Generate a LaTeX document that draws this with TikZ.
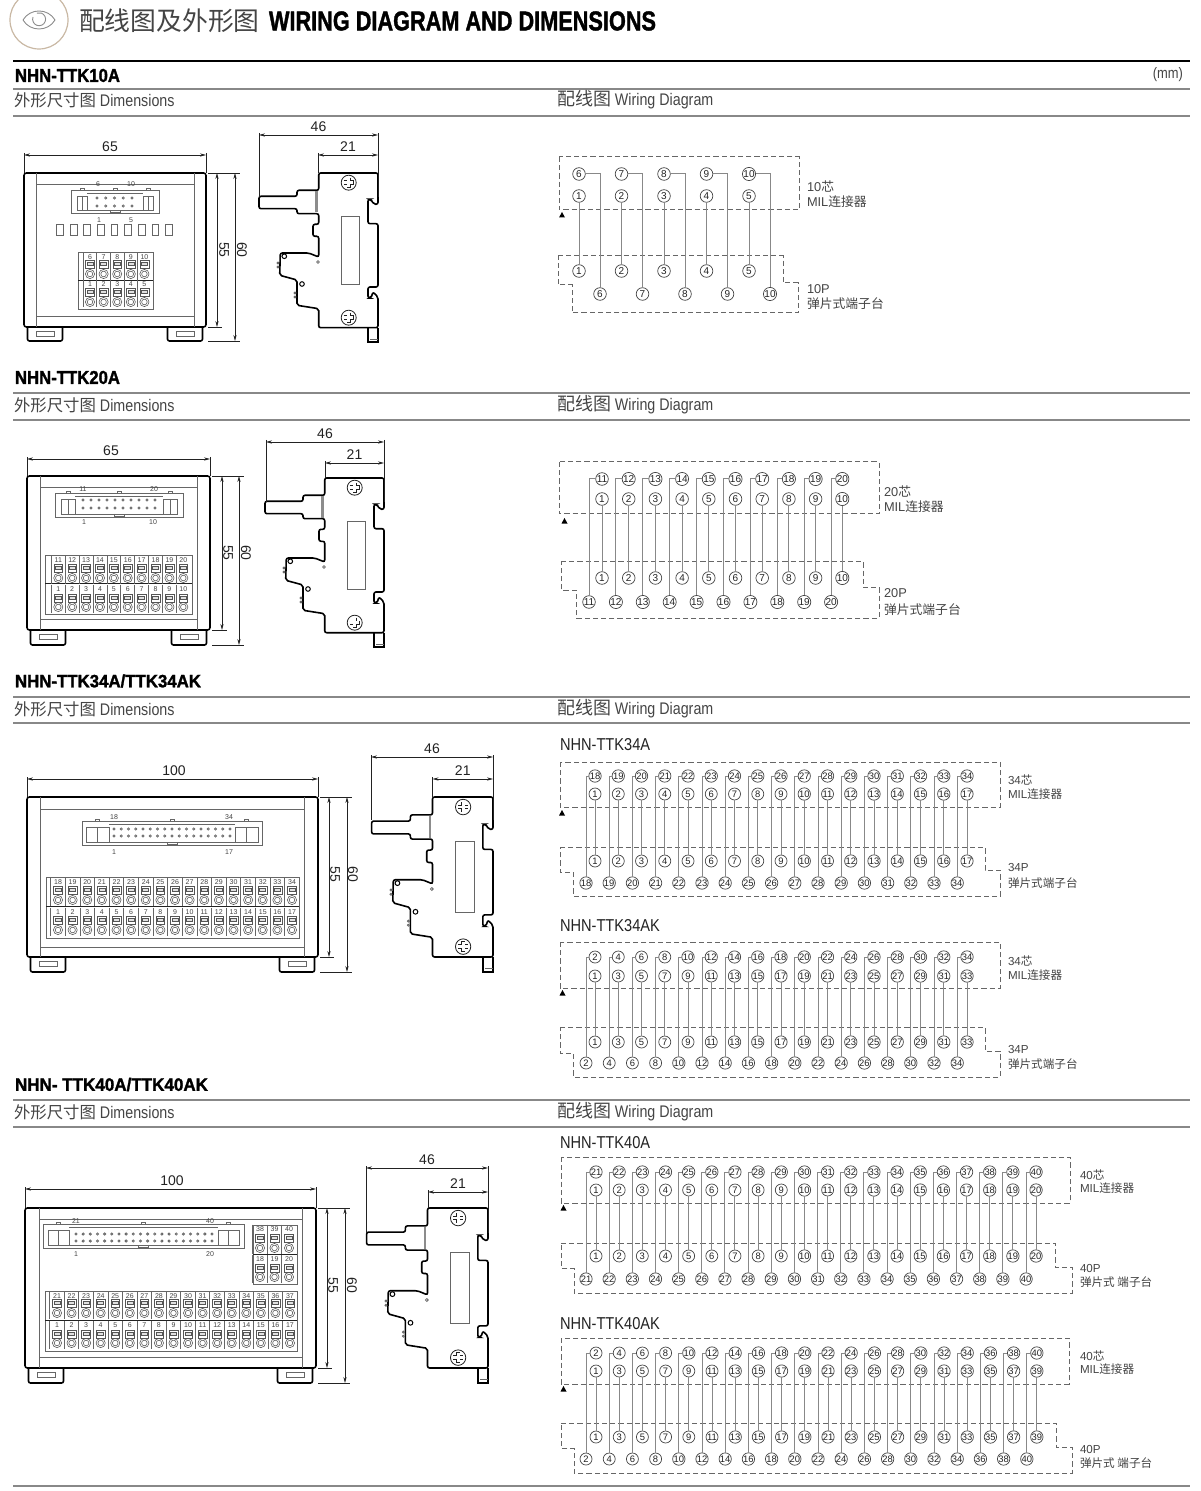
\documentclass[tikz,border=0pt]{standalone}
\usepackage{fontspec}
\usepackage{graphicx}
\setmainfont{Liberation Sans}
\newfontfamily\cjk{Noto Sans CJK SC}
\newfontfamily\fcond[FakeStretch=0.85]{Liberation Sans}
\newfontfamily\heavy[FakeBold=1.6]{Liberation Sans}
\usetikzlibrary{arrows.meta}
\definecolor{ink}{HTML}{222222}
\definecolor{soft}{HTML}{444444}
\definecolor{wirec}{HTML}{888888}
\definecolor{dashc}{HTML}{666666}
\definecolor{termc}{HTML}{555555}
\definecolor{rulec}{HTML}{888888}
\definecolor{tan}{HTML}{C9B8A4}
\newcommand{\zh}[1]{{\cjk #1}}
\newcount\nodeid
\newcommand{\lab}[3][]{\global\advance\nodeid 1 \node[#1] (n\the\nodeid) at (#2) {#3};}
\tikzset{
  every node/.style={inner sep=0pt,outer sep=0pt},
  pinnode/.style={circle,draw=soft,line width=.35pt,fill=white,minimum size=6.3pt,text=ink,font=\fontsize{5}{5}\selectfont},
  wire/.style={draw=wirec,line width=.5pt},
  dashbox/.style={draw=dashc,line width=.5pt,dash pattern=on 2.6pt off 1.5pt},
  outline/.style={draw=black,line width=.8pt},
  thin line/.style={draw=dashc,line width=.4pt},
  termline/.style={draw=termc,line width=.28pt},
  dimline/.style={draw=ink,line width=.3pt,{Stealth[length=3pt,width=1.6pt]}-{Stealth[length=3pt,width=1.6pt]}},
  extline/.style={draw=ink,line width=.3pt},
  dimtext/.style={text=ink,font=\fontsize{7}{8}\selectfont},
  tinytext/.style={text=soft,font=\fontsize{3.5}{4}\selectfont},
  sidetext/.style={anchor=west,text=soft,font=\fontsize{6.4}{7}\selectfont},
  sidetextb/.style={anchor=west,text=soft,font=\fontsize{5.8}{7}\selectfont},
  head/.style={anchor=base west,text=soft,font=\fcond\fontsize{8.4}{9}\selectfont},
}
% ---------- section heading
\newcommand{\sechead}[7]{%
  \lab[anchor=west]{15,#3}{\resizebox{\dimexpr#1pt/2\relax}{6.5pt}{\heavy\bfseries #2}}
  \draw[draw=rulec,line width=.6pt] (13,#4) -- (1190,#4);
  \lab[head]{14,#5+6}{\zh{\fontsize{8.2}{9}\selectfont 外形尺寸图}\ Dimensions}
  \lab[head]{557,#7+6}{\zh{\fontsize{9}{9}\selectfont 配线图}\ Wiring Diagram}
  \draw[draw=rulec,line width=.6pt] (13,#6) -- (1190,#6);
}
% ---------- dimensions
\def\hdoff{0}
\newcommand{\hd}[5]{% x1 x2 y label lower-end
  \draw[extline] (#1,#3-2) -- (#1,#5);
  \draw[extline] (#2,#3-2) -- (#2,#5);
  \draw[dimline] (#1,#3) -- (#2,#3);
  \lab[dimtext]{{(#1+#2)/2+\hdoff},#3-8.5}{#4}
}
\newcommand{\vd}[6]{% x y1 y2 xfrom label labelx
  \draw[extline] (#4,#2) -- (#1+5,#2);
  \draw[extline] (#4,#3) -- (#1+5,#3);
  \draw[dimline] (#1,#2) -- (#1,#3);
  \lab[dimtext,rotate=-90]{#6,{(#2+#2+154)/2}}{#5}
}
% ---------- front frame
\newcommand{\frontview}[9]{% xL xR yT yB yF inL inR inT inB
  \foreach \fx/\fy in {#1+3.5/#1+38.5,#2-38.5/#2-3.5}{
    \pgfmathsetmacro\fa{\fx}\pgfmathsetmacro\fb{\fy}
    \draw[outline,rounded corners=1pt] (\fa,#4) -- (\fa,#5) -- (\fb,#5) -- (\fb,#4);
    \draw[thin line] ({\fa+9},#4+4) rectangle ({\fb-8},#4+9);
  }
  \draw[outline,fill=white,rounded corners=1.2pt] (#1,#3) rectangle (#2,#4);
  \draw[thin line] (#6,#3) -- (#6,#4) (#7,#3) -- (#7,#4) (#6,#8) -- (#7,#8) (#6,#9) -- (#7,#9);
}
% ---------- MIL connector on the front
\def\ejoff{5}\def\ejw{12}
\newcommand{\connbox}[9]{% xL xR yT yB px1 pdx n y1 y2
  \draw[thin line] (#1,#3) rectangle (#2,#4);
  \draw[thin line] (#1+\ejoff,#3+6) rectangle (#1+\ejoff+\ejw,#4-3);
  \draw[thin line] (#1+\ejoff+\ejw/2,#3+6) -- (#1+\ejoff+\ejw/2,#4-3);
  \draw[thin line] (#2-\ejoff,#3+6) rectangle (#2-\ejoff-\ejw,#4-3);
  \draw[thin line] (#2-\ejoff-\ejw/2,#3+6) -- (#2-\ejoff-\ejw/2,#4-3);
  \draw[thin line] (#1+\ejoff+\ejw,#3+3) -- (#2-\ejoff-\ejw,#3+3);
  \draw[thin line] (#1+\ejoff+\ejw,#4-3) -- (#2-\ejoff-\ejw,#4-3);
  \draw[thin line] ({(#1+#2)/2-5},#4-3) -- ({(#1+#2)/2-5},#4-1) -- ({(#1+#2)/2+5},#4-1) -- ({(#1+#2)/2+5},#4-3);
  \foreach \tabx in {#1+\ejoff+\ejw/2,(#1+#2)/2,#2-\ejoff-\ejw/2}{
    \pgfmathsetmacro\tx{\tabx}
    \draw[thin line] ({\tx-2},#3) -- ({\tx-2},#3-1.5) -- ({\tx+2},#3-1.5) -- ({\tx+2},#3);
  }
  \foreach \ci in {1,...,#7}{
    \pgfmathsetmacro\cx{#5+(\ci-1)*#6}
    \draw[thin line] (\cx,#8) circle[radius=1.1];
    \draw[thin line] (\cx,#9) circle[radius=1.1];
  }
}
% ---------- terminal row
\newcommand{\trow}[7]{% x0 dx n first yl ys yc
  \foreach \ci in {1,...,#3}{
    \pgfmathsetmacro\cx{#1+(\ci-1)*#2}
    \pgfmathtruncatemacro\cl{#4+\ci-1}
    \draw[thin line] ({\cx-#2/2},#5-4.5) -- ({\cx-#2/2},#7+5.5);
    \lab[tinytext]{\cx,#5}{\cl}
    \draw[termline] ({\cx-4.4},#6-4) rectangle ({\cx+4.4},#6+4);
    \draw[termline,fill=black!12] ({\cx-3},#6-1.4) rectangle ({\cx+3},#6+1.6);
    \draw[termline] (\cx,#7) circle[radius=4.6];
    \draw[termline] (\cx,#7) circle[radius=2.8];
  }
}
% ---------- side view
\newcommand{\sideview}[4]{%
  \begin{scope}[shift={(#1,#2)},xscale=#3,yscale=#4]
    \draw[outline] (-10,154.7) -- (-10,169) -- (0,169) -- (0,154.7);
    \draw[thin line] (-8,166) -- (0,166);
    \draw[outline,fill=white,rounded corners=1pt]
      (-59.3,0) -- (0,0) -- (0,31.3) -- (-4.3,31.3) -- (-7,26.3) -- (-10,26.3) -- (-10,50.7) -- (0,50.7)
      -- (0,114) -- (-10,114) -- (-10,125) -- (-7,125) -- (-5,119) -- (0,124) -- (0,154.7)
      -- (-59.3,154.7) -- (-59.3,135.7) -- (-81,132.3) -- (-81,107) -- (-98.3,102.3) -- (-97.7,80)
      -- (-69.3,80) -- (-59.3,84) -- (-59.3,63.3) -- (-65,63.3) -- (-65,51.3) -- (-59.3,51.3) -- (-59.3,40.7)
      -- (-81,40.7) -- (-81,35.7) -- (-119,35.7) -- (-119,23.3) -- (-81,23.3) -- (-81,17.3) -- (-59.3,17.3) -- cycle;
    \draw[draw=black!45,line width=1.2pt] (-61.5,18.5) -- (-61.5,39.5);
    \draw[thin line] (-37,43) rectangle (-18.5,111.7);
    \draw[draw=black,line width=.5pt] (-93.7,83.3) circle[radius=2.3] (-76,111) circle[radius=2.3];
    \draw[thin line] (-100,90) circle[radius=1] (-100,94) circle[radius=1] (-83,120) circle[radius=1] (-83,124) circle[radius=1] (-60,89) circle[radius=1.4];
    \foreach \sy in {9.7,144.7}{
      \draw[draw=ink,line width=.4pt] (-29.3,\sy) circle[radius=7.5];
      \draw[draw=ink,line width=2.2pt] (-34.3,\sy) -- (-24.3,\sy) (-29.3,\sy-5) -- (-29.3,\sy+5);
      \draw[draw=white,line width=1.4pt] (-33.9,\sy) -- (-24.7,\sy) (-29.3,\sy-4.6) -- (-29.3,\sy+4.6);
    }
  \end{scope}
}
% ---------- wiring panels
\newcommand{\dashtop}[4]{\draw[dashbox] (#1,#3) rectangle (#2,#4);}
\newcommand{\dashbot}[8]{\draw[dashbox] (#1,#4) -- (#2,#4) -- (#2,#5) -- (#3,#5) -- (#3,#6) -- (#7,#6) -- (#7,#8) -- (#1,#8) -- cycle;}
\newcommand{\setlabels}[4]{\def\topexpr{#1}\def\secexpr{#2}\def\wside{#3}\def\dxb{#4}}
\newcommand{\wiring}[9]{% id x1 dx x2 y1 y2 y3 y4 n
  \foreach \i in {1,...,#9}{
    \pgfmathsetmacro\xa{#2+(\i-1)*#3}
    \pgfmathsetmacro\xb{#4+(\i-1)*\dxb}
    \pgfmathtruncatemacro\tlb{\topexpr}
    \pgfmathtruncatemacro\slb{\secexpr}
    \node[pinnode] (#1t\i) at (\xa,#5) {\tlb};
    \node[pinnode] (#1s\i) at (\xa,#6) {\slb};
    \node[pinnode] (#1c\i) at (\xa,#7) {\slb};
    \node[pinnode] (#1d\i) at (\xb,#8) {\tlb};
    \draw[wire] (#1t\i.\wside) -| (#1d\i.north);
    \draw[wire] (#1s\i.south) -- (#1c\i.north);
  }
}
\newcommand{\tri}[2]{\fill[black] (#1-3,#2+2.5) -- (#1+3,#2+2.5) -- (#1,#2-3) -- cycle;}
\begin{document}
\begin{tikzpicture}[x=0.5pt,y=-0.5pt]
\useasboundingbox (0,0) rectangle (1200,1491);
\clip (0,0) rectangle (1200,1491);
% ===== banner
\draw[draw=tan,line width=.6pt] (39,20) circle[radius=29];
\draw[draw=black!45,line width=.45pt] (23,20) .. controls (30,8) and (48,8) .. (55,20) .. controls (48,32) and (30,32) .. (23,20);
\draw[draw=black!45,line width=.45pt] (33,17) arc[start angle=200,end angle=-110,radius=6.5];
\lab[anchor=west,text=soft,font=\cjk\fontsize{12.9}{13}\selectfont]{79,21}{配线图及外形图}
\lab[anchor=west]{269,21}{\resizebox{193.5pt}{9.5pt}{\heavy\bfseries WIRING DIAGRAM AND DIMENSIONS}}
\draw[draw=black,line width=.8pt] (13,61) -- (1190,61);
\lab[anchor=east,text=soft,font=\fcond\fontsize{7.6}{8}\selectfont]{1183,75}{(mm)}
% ===== section heads
\sechead{105}{NHN-TTK10A}{75.5}{89}{101}{116}{100}
\sechead{105}{NHN-TTK20A}{377.5}{393}{406}{420}{405}
\sechead{186}{NHN-TTK34A/TTK34AK}{681}{697}{709}{723}{708}
\sechead{193}{NHN- TTK40A/TTK40AK}{1084.5}{1100}{1112}{1127}{1111}
\draw[draw=rulec,line width=.6pt] (13,1486) -- (1190,1486);
% ===== section 1 drawings
\frontview{24}{206}{173}{327}{341}{36}{194}{184}{316}
\def\hdoff{-5}
\hd{24}{206}{155}{65}{173}
\def\hdoff{0}
\vd{217}{173}{327}{208}{55}{224}
\vd{235}{173}{341}{208}{60}{242}
\def\ejoff{6}\def\ejw{10}
\connbox{71}{159}{190}{213}{97}{8.75}{5}{198}{206}
\lab[tinytext]{98,184.5}{6}\lab[tinytext]{131,184.5}{10}\lab[tinytext]{99,220}{1}\lab[tinytext]{131,220}{5}
\foreach \ci in {0,...,8}{\pgfmathsetmacro\cx{60+\ci*13.62}\draw[thin line] ({\cx-3.4},224) rectangle ({\cx+3.4},235);}
\draw[thin line] (78,252) rectangle (153,309);
\draw[draw=ink,line width=.4pt] (78,280) -- (153,280);
\trow{90}{13.6}{5}{6}{257}{264}{274}
\trow{90}{13.6}{5}{1}{284}{292}{302}
\sideview{378}{173}{1}{1}
\hd{259}{378}{135}{46}{197}
\hd{318}{378}{155}{21}{173}
\dashtop{559}{799}{157}{210}
\dashbot{558}{783}{798}{256}{283}{313}{572}{285}
\setlabels{5+\i}{\i}{east}{42.5}
\wiring{wa}{579}{42.5}{600}{174}{196}{271}{294}{5}
\tri{562}{215}
\lab[sidetext]{807,187}{10\zh{芯}}\lab[sidetext]{807,202}{MIL\zh{连接器}}
\lab[sidetext]{807,289}{10P}\lab[sidetext]{807,304}{\zh{弹片式端子台}}
% ===== section 2 drawings
\frontview{27}{210}{476}{630}{645}{40}{197}{487}{619}
\def\hdoff{-7.5}
\hd{27}{210}{459}{65}{476}
\def\hdoff{0}
\vd{222}{476}{630}{212}{55}{228}
\vd{239}{476}{645}{212}{60}{246}
\def\ejoff{6}\def\ejw{14}
\connbox{55}{183}{493}{517}{83}{8}{10}{500}{508}
\lab[tinytext]{83,489}{11}\lab[tinytext]{154,489}{20}\lab[tinytext]{84,522}{1}\lab[tinytext]{153,522}{10}
\draw[thin line] (45,555) rectangle (192,614);
\draw[draw=ink,line width=.4pt] (45,583) -- (192,583);
\trow{58.3}{13.89}{10}{11}{560}{568}{578}
\trow{58.3}{13.89}{10}{1}{589}{598}{607}
\sideview{384}{478}{1}{1}
\hd{266}{384}{442}{46}{502}
\hd{325}{384}{463}{21}{478}
\dashtop{559}{879}{462}{514}
\dashbot{561}{863}{879}{561}{587}{618}{576}{590}
\setlabels{10+\i}{\i}{west}{26.9}
\wiring{wb}{602}{26.7}{589}{479}{499}{578}{602}{10}
\tri{564.5}{521}
\lab[sidetext]{884,492}{20\zh{芯}}\lab[sidetext]{884,507}{MIL\zh{连接器}}
\lab[sidetext]{884,593}{20P}\lab[sidetext]{884,610}{\zh{弹片式端子台}}
% ===== section 3 drawings
\tikzset{pinnode/.append style={minimum size=6pt,font=\fontsize{4.7}{5}\selectfont}}
\frontview{27}{318}{797}{957}{972}{40}{304}{809}{947}
\def\hdoff{1.5}
\hd{27}{318}{779}{100}{797}
\def\hdoff{0}
\vd{329}{797}{957}{320}{55}{335}
\vd{347}{797}{972}{320}{60}{353}
\def\ejoff{4}\def\ejw{23}
\connbox{82}{262}{821}{845}{114}{7.25}{17}{829}{836}
\lab[tinytext]{114,817}{18}\lab[tinytext]{229,817}{34}\lab[tinytext]{114,852}{1}\lab[tinytext]{229,852}{17}
\draw[thin line] (46,877) rectangle (299,938);
\draw[draw=ink,line width=.4pt] (46,906) -- (299,906);
\trow{58}{14.625}{17}{18}{882}{890}{900}
\trow{58}{14.625}{17}{1}{912}{920}{930}
\sideview{493}{797}{1.02}{1.034}
\hd{371}{493}{757}{46}{820}
\hd{432.5}{493}{779}{21}{797}
\lab[anchor=west,font=\fcond\fontsize{8.6}{9}\selectfont,text=ink]{560,745}{NHN-TTK34A}
\dashtop{560}{1000}{762}{807}
\dashbot{560}{985}{1000}{847}{870}{896}{573}{872}
\setlabels{17+\i}{\i}{west}{23.2}
\wiring{wc}{595}{23.25}{586}{776}{794}{861}{883}{17}
\tri{562}{813}
\lab[sidetextb]{1008,780}{34\zh{芯}}\lab[sidetextb]{1008,794}{MIL\zh{连接器}}
\lab[sidetextb]{1008,868}{34P}\lab[sidetextb]{1008,883}{\zh{弹片式端子台}}
\lab[anchor=west,font=\fcond\fontsize{8.6}{9}\selectfont,text=ink]{560,926}{NHN-TTK34AK}
\dashtop{560}{1000}{942}{988}
\dashbot{560}{985}{1000}{1027}{1051}{1077}{573}{1053}
\setlabels{2*\i}{2*\i-1}{west}{23.2}
\wiring{wd}{595}{23.25}{586}{957}{976}{1042}{1063}{17}
\tri{562.5}{993}
\lab[sidetextb]{1008,961}{34\zh{芯}}\lab[sidetextb]{1008,975}{MIL\zh{连接器}}
\lab[sidetextb]{1008,1049}{34P}\lab[sidetextb]{1008,1064}{\zh{弹片式端子台}}
% ===== section 4 drawings
\frontview{25}{316}{1208}{1368}{1383}{39}{302}{1219}{1357}
\def\hdoff{1.5}
\hd{25}{316}{1189}{100}{1208}
\def\hdoff{0}
\vd{327}{1208}{1368}{318}{55}{333}
\vd{345}{1208}{1383}{318}{60}{352}
\def\ejoff{5}\def\ejw{21}
\connbox{43}{244}{1224}{1248}{76}{7.16}{20}{1234}{1241}
\lab[tinytext]{76,1221}{21}\lab[tinytext]{210,1221}{40}\lab[tinytext]{76,1254}{1}\lab[tinytext]{210,1254}{20}
\draw[thin line] (45,1291) rectangle (297,1351);
\draw[draw=ink,line width=.4pt] (45,1320) -- (297,1320);
\trow{57}{14.56}{17}{21}{1296}{1303}{1313}
\trow{57}{14.56}{17}{1}{1325}{1334}{1343}
\draw[thin line] (253,1225) rectangle (297,1284);
\draw[draw=ink,line width=.4pt] (253,1254) -- (297,1254);
\trow{260}{14.5}{3}{38}{1229}{1238}{1248}
\trow{260}{14.5}{3}{18}{1259}{1268}{1277}
\sideview{488}{1208}{1.02}{1.034}
\hd{366}{488}{1168}{46}{1233}
\hd{428}{488}{1192}{21}{1208}
\lab[anchor=west,font=\fcond\fontsize{8.6}{9}\selectfont,text=ink]{560,1143}{NHN-TTK40A}
\dashtop{561}{1070}{1157}{1203}
\dashbot{561}{1055}{1072}{1243}{1267}{1293}{574}{1268}
\setlabels{20+\i}{\i}{west}{23.16}
\wiring{we}{596}{23.16}{586}{1172}{1190}{1256}{1279}{20}
\tri{563.5}{1208}
\lab[sidetextb]{1080,1175}{40\zh{芯}}\lab[sidetextb]{1080,1188}{MIL\zh{连接器}}
\lab[sidetextb]{1080,1268}{40P}\lab[sidetextb]{1080,1282}{\zh{弹片式 端子台}}
\lab[anchor=west,font=\fcond\fontsize{8.6}{9}\selectfont,text=ink]{560,1324}{NHN-TTK40AK}
\dashtop{561}{1069}{1338}{1384}
\dashbot{561}{1056}{1072}{1423}{1447}{1473}{574}{1448}
\setlabels{2*\i}{2*\i-1}{west}{23.2}
\wiring{wf}{596}{23.2}{586}{1353}{1371}{1437}{1459}{20}
\tri{563.5}{1389}
\lab[sidetextb]{1080,1356}{40\zh{芯}}\lab[sidetextb]{1080,1369}{MIL\zh{连接器}}
\lab[sidetextb]{1080,1449}{40P}\lab[sidetextb]{1080,1463}{\zh{弹片式 端子台}}
\end{tikzpicture}
\end{document}
